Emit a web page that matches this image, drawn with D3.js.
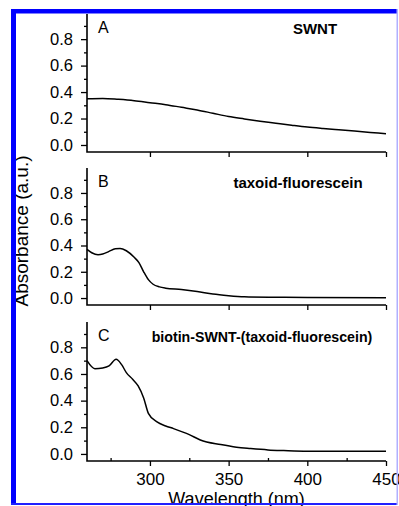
<!DOCTYPE html>
<html><head><meta charset="utf-8">
<script src="https://cdn.jsdelivr.net/npm/d3@7"></script>
<style>body{margin:0;background:#fff}svg{display:block}</style>
</head><body>
<script>
// ---- data ----
const panelLetters = ["A", "B", "C"];
const panelLabels = ["SWNT", "taxoid-fluorescein", "biotin-SWNT-(taxoid-fluorescein)"];
const wlA = [260,270,280,290,300,310,320,330,340,350,360,370,380,390,400,410,420,430,440,450];
const absA = [0.35,0.352,0.345,0.335,0.32,0.305,0.285,0.265,0.24,0.215,0.197,0.18,0.165,0.15,0.136,0.125,0.115,0.105,0.095,0.085];
const wlB = [260,263,267,270,274,278,281,285,290,293,296,299,302,306,310,320,330,340,350,360,380,400,450];
const absB = [0.37,0.345,0.33,0.335,0.355,0.375,0.378,0.36,0.31,0.27,0.2,0.14,0.105,0.085,0.075,0.065,0.05,0.03,0.018,0.01,0.006,0.004,0.003];
const wlC = [260,265,270,274,278.5,282,285,289,292.5,296,299,304.5,310,315,325,332,345,355,364,375,385,400,425,450];
const absC = [0.70,0.64,0.645,0.66,0.71,0.67,0.61,0.56,0.51,0.42,0.305,0.24,0.21,0.19,0.145,0.105,0.07,0.05,0.04,0.03,0.025,0.02,0.02,0.02];
const xTicks = [300,350,400,450];
const xMinor = [275,325,375,425];
const yTicks = [0.0,0.2,0.4,0.6,0.8];
const yMinor = [0.1,0.3,0.5,0.7,0.9];
const series = [[wlA,absA],[wlB,absB],[wlC,absC]];

// ---- layout ----
const W = 399, H = 506;
const svg = d3.select("body").append("svg").attr("width", W).attr("height", H);
const panelRanges = [[152,14],[305,168],[461,322]];
const x = d3.scaleLinear().domain([260,450]).range([87,386]);
const font = "'Liberation Sans', Arial, sans-serif";

panelRanges.forEach((r, i) => {
  const y = d3.scaleLinear().domain([-0.053, 0.99]).range(r);
  const g = svg.append("g");
  const ya = g.append("g").attr("transform", `translate(${x(260)},0)`)
    .call(d3.axisLeft(y).tickValues(yTicks).tickSize(6).tickPadding(8).tickFormat(d3.format(".1f")));
  ya.select(".domain").remove();
  ya.selectAll("line").attr("stroke","#000").attr("stroke-width",1.3);
  ya.selectAll("text").style("font-family", font).style("font-size","16.5px").attr("fill","#000");
  const ym = g.append("g").attr("transform", `translate(${x(260)},0)`)
    .call(d3.axisLeft(y).tickValues(yMinor).tickSize(3).tickFormat(""));
  ym.select(".domain").remove();
  ym.selectAll("line").attr("stroke","#000").attr("stroke-width",1.3);
  const last = i === 2;
  const xa = g.append("g").attr("transform", `translate(0,${r[0]})`)
    .call(d3.axisBottom(x).tickValues(xTicks).tickSize(5).tickPadding(7).tickFormat(last ? d3.format("d") : ""));
  xa.select(".domain").remove();
  xa.selectAll("line").attr("stroke","#000").attr("stroke-width",1.3);
  xa.selectAll("text").style("font-family", font).style("font-size","17px").attr("fill","#000");
  if (last) {
    const xm = g.append("g").attr("transform", `translate(0,${r[0]})`)
      .call(d3.axisTop(x).tickValues(xMinor).tickSize(3).tickFormat(""));
    xm.select(".domain").remove();
    xm.selectAll("line").attr("stroke","#000").attr("stroke-width",1.3);
  }
  g.append("path").attr("d", `M${x(260)},${r[1]}V${r[0]}H${x(450)}`)
    .attr("fill","none").attr("stroke","#000").attr("stroke-width",1.6);
  const [wl, ab] = series[i];
  const line = d3.line().x((d,k)=>x(wl[k])).y(d=>y(d)).curve(d3.curveMonotoneX);
  g.append("path").datum(ab).attr("d", line).attr("fill","none")
    .attr("stroke","#000").attr("stroke-width",1.5);
  g.append("text").attr("x", x(260)+11).attr("y", r[1]+19).text(panelLetters[i])
    .style("font-family", font).style("font-size","16px");
  g.append("text").attr("x", i===0 ? 315 : (i===1 ? 298 : 262)).attr("y", r[1]+20)
    .attr("text-anchor","middle").text(panelLabels[i])
    .style("font-family", font).style("font-size", i===2 ? "14.2px" : "15px").style("font-weight","bold");
});

svg.append("text").attr("x", (x(260)+x(450))/2).attr("y", 505).attr("text-anchor","middle")
  .text("Wavelength (nm)").style("font-family", font).style("font-size","18px");
svg.append("text").attr("transform","translate(28,231) rotate(-90)").attr("text-anchor","middle")
  .text("Absorbance (a.u.)").style("font-family", font).style("font-size","19px");

// blue frame
svg.append("rect").attr("x",11).attr("y",9).attr("width",387).attr("height",4.5).attr("fill","#0000ff");
svg.append("rect").attr("x",11).attr("y",9).attr("width",5).attr("height",496).attr("fill","#0000ff");
svg.append("rect").attr("x",11).attr("y",503).attr("width",387).attr("height",2).attr("fill","#2020ff");
svg.append("rect").attr("x",396.5).attr("y",9).attr("width",1.5).attr("height",496).attr("fill","#b0b0ff");
</script>
</body></html>
